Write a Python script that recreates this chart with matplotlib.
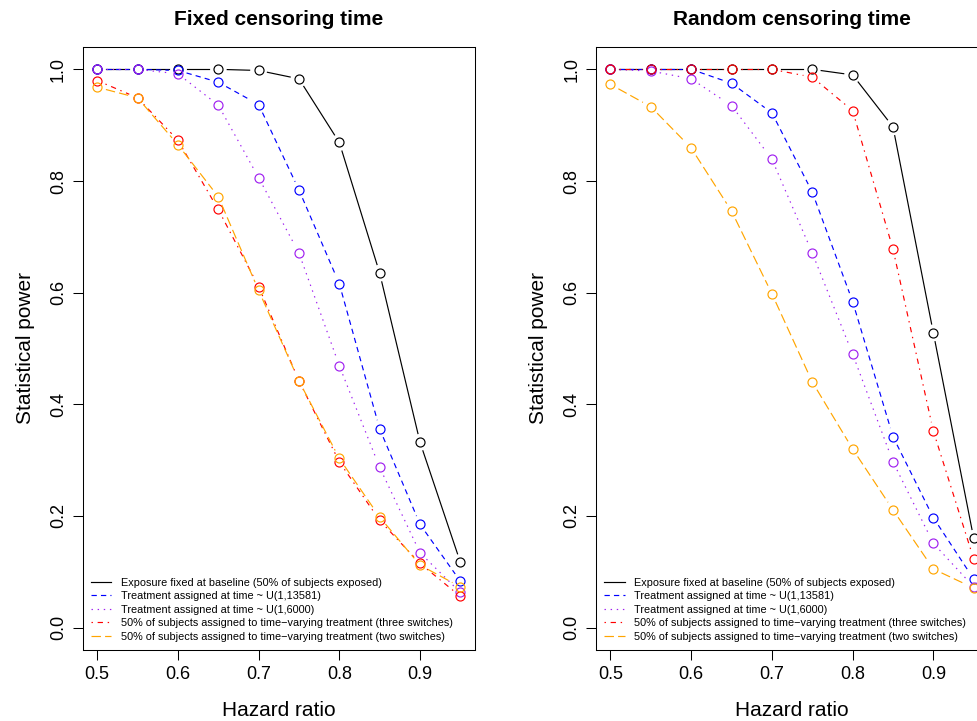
import numpy as np
import matplotlib
matplotlib.use("Agg")
import matplotlib.pyplot as plt
from matplotlib.lines import Line2D

plt.rcParams['font.family'] = ['Liberation Sans', 'DejaVu Sans']

hazard_ratio = [0.50, 0.55, 0.60, 0.65, 0.70, 0.75, 0.80, 0.85, 0.90, 0.95]

# Fixed censoring time
fixed_baseline = [1.000, 1.000, 1.000, 1.000, 0.998, 0.983, 0.869, 0.635, 0.332, 0.117]
fixed_u13581 = [1.000, 1.000, 0.998, 0.977, 0.937, 0.784, 0.616, 0.356, 0.185, 0.083]
fixed_u6000 = [1.000, 1.000, 0.992, 0.936, 0.806, 0.671, 0.469, 0.287, 0.134, 0.063]
fixed_three = [0.980, 0.949, 0.873, 0.749, 0.611, 0.442, 0.297, 0.192, 0.115, 0.056]
fixed_two = [0.968, 0.949, 0.865, 0.772, 0.604, 0.442, 0.303, 0.198, 0.112, 0.073]

# Random censoring time
random_baseline = [1.000, 1.000, 1.000, 1.000, 1.000, 1.000, 0.990, 0.897, 0.528, 0.160]
random_u13581 = [1.000, 1.000, 1.000, 0.975, 0.922, 0.780, 0.584, 0.342, 0.197, 0.087]
random_u6000 = [1.000, 0.997, 0.983, 0.935, 0.839, 0.671, 0.490, 0.297, 0.151, 0.073]
random_three = [1.000, 1.000, 1.000, 1.000, 1.000, 0.986, 0.926, 0.678, 0.352, 0.123]
random_two = [0.973, 0.933, 0.859, 0.746, 0.598, 0.440, 0.320, 0.211, 0.105, 0.071]

labels = [
    "Exposure fixed at baseline (50% of subjects exposed)",
    "Treatment assigned at time ~ U(1,13581)",
    "Treatment assigned at time ~ U(1,6000)",
    "50% of subjects assigned to time\u2212varying treatment (three switches)",
    "50% of subjects assigned to time\u2212varying treatment (two switches)",
]
colors = ["black", "#0000FF", "#A020F0", "#FF0000", "#FFA500"]
styles = ["-", (0, (4.5, 3.5)), (0, (1.2, 4)), (0, (1.2, 4, 4.5, 4)), (0, (8, 3.5))]
LW = 0.85


def plot_b(ax, x, y, color, ls, gap=9):
    # R type="b": points joined by lines that stop short of each point
    ax.plot(x, y, ls="none", marker="o", ms=6.5, mfc="none", mec=color, mew=0.85)
    tr = ax.transData
    pts = tr.transform(np.column_stack([x, y]))
    inv = tr.inverted()
    for p0, p1 in zip(pts[:-1], pts[1:]):
        d = p1 - p0
        L = np.hypot(d[0], d[1])
        if L <= 2 * gap:
            continue
        u = d / L
        seg = inv.transform(np.array([p0 + u * gap, p1 - u * gap]))
        ax.plot(seg[:, 0], seg[:, 1], color=color, ls=ls, lw=LW)


fig = plt.figure(figsize=(9.77, 7.21), dpi=100)
ax1 = fig.add_axes([0.0846, 0.0985, 0.4015, 0.8363])
ax2 = fig.add_axes([0.610, 0.0985, 0.4015, 0.8363])

panels = [
    (ax1, "Fixed censoring time", [fixed_baseline, fixed_u13581, fixed_u6000, fixed_three, fixed_two]),
    (ax2, "Random censoring time", [random_baseline, random_u13581, random_u6000, random_three, random_two]),
]

for ax, title, series in panels:
    ax.set_xlim(0.482, 0.968)
    ax.set_ylim(-0.04, 1.04)
    for vals, c, ls in zip(series, colors, styles):
        plot_b(ax, hazard_ratio, vals, c, ls)
    ax.set_xticks([0.5, 0.6, 0.7, 0.8, 0.9])
    ax.set_xticklabels(["0.5", "0.6", "0.7", "0.8", "0.9"])
    ax.set_yticks([0.0, 0.2, 0.4, 0.6, 0.8, 1.0])
    ax.set_yticklabels(["0.0", "0.2", "0.4", "0.6", "0.8", "1.0"], rotation=90, va="center")
    ax.tick_params(axis="both", direction="out", length=7.2, width=0.75, labelsize=13)
    ax.tick_params(axis="x", pad=4.5)
    ax.tick_params(axis="y", pad=4)
    for s in ax.spines.values():
        s.set_linewidth(0.75)
    ax.set_title(title, fontsize=15, fontweight="bold", pad=16)
    ax.set_xlabel("Hazard ratio", fontsize=15, labelpad=13)
    ax.set_ylabel("Statistical power", fontsize=15, labelpad=11)
    handles = [Line2D([], [], color=c, ls=ls, lw=LW) for c, ls in zip(colors, styles)]
    ax.legend(handles, labels, loc="lower left", frameon=False, fontsize=7.8,
              handlelength=1.9, handletextpad=0.9, labelspacing=0.33,
              borderaxespad=0.45, borderpad=0.3)

fig.savefig("out.png", dpi=100)
